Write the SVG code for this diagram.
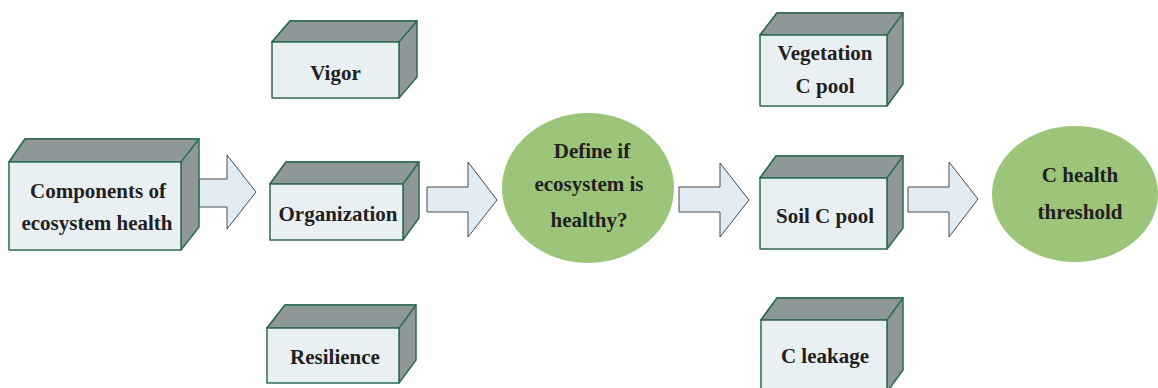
<svg xmlns="http://www.w3.org/2000/svg" width="1158" height="388" viewBox="0 0 1158 388">
<style>
.f{fill:#e9f0f4;stroke:#2d6b50;stroke-width:1.5;stroke-linejoin:round}
.s{fill:#8f9798;stroke:#2d6b50;stroke-width:1.5;stroke-linejoin:round}
.e{fill:#9cc57a;stroke:none}
.a{fill:#e1ecf5;stroke:#4a4a4a;stroke-width:1}
text{font-family:"Liberation Serif","Times New Roman",serif;font-weight:bold;font-size:21px;fill:#231f20;text-anchor:middle}
</style>
<rect width="1158" height="388" fill="#ffffff"/>
<g id="connectors">
<path class="a" d="M199,179 H227 V155 L256,192 L227,229 V207 H199 Z"/>
<path class="a" d="M427,187 H468 V162 L497,200 L468,237 V212 H427 Z"/>
<path class="a" d="M679,187 H720 V163 L749,200 L720,237 V212 H679 Z"/>
<path class="a" d="M908,187 H949 V162 L978,199 L949,237 V212 H908 Z"/>
</g>
<g id="components">
<path class="s" d="M9,162 L25,139 H199 V227 L181,250 V162 Z"/>
<path class="s" d="M9,162 L25,139 H199 L181,162 Z"/>
<rect class="f" x="9" y="162" width="172" height="88"/>
<text x="98" y="198">Components of</text>
<text x="97" y="230">ecosystem health</text>
</g>
<g id="vigor">
<path class="s" d="M272,42 L290,21 H417 V77 L399,98 V42 Z"/>
<path class="s" d="M272,42 L290,21 H417 L399,42 Z"/>
<rect class="f" x="272" y="42" width="127" height="56"/>
<text x="335.5" y="80">Vigor</text>
</g>
<g id="organization">
<path class="s" d="M270,184 L286,162 H419 V218 L403,240 V184 Z"/>
<path class="s" d="M270,184 L286,162 H419 L403,184 Z"/>
<rect class="f" x="270" y="184" width="133" height="56"/>
<text x="338" y="221">Organization</text>
</g>
<g id="resilience">
<path class="s" d="M267,328 L285,305 H416 V360 L399,383 V328 Z"/>
<path class="s" d="M267,328 L285,305 H416 L399,328 Z"/>
<rect class="f" x="267" y="328" width="132" height="55"/>
<text x="335" y="364">Resilience</text>
</g>
<g id="define">
<ellipse class="e" cx="588" cy="188" rx="86" ry="75"/>
<text x="592" y="158">Define if</text>
<text x="589" y="191">ecosystem is</text>
<text x="589" y="227">healthy?</text>
</g>
<g id="vegetation">
<path class="s" d="M760,35 L777,13 H903 V84 L887,106 V35 Z"/>
<path class="s" d="M760,35 L777,13 H903 L887,35 Z"/>
<rect class="f" x="760" y="35" width="127" height="71"/>
<text x="825" y="60">Vegetation</text>
<text x="825" y="93">C pool</text>
</g>
<g id="soil">
<path class="s" d="M760,178 L776,156 H903 V228 L887,249 V178 Z"/>
<path class="s" d="M760,178 L776,156 H903 L887,178 Z"/>
<rect class="f" x="760" y="178" width="127" height="71"/>
<text x="825" y="223">Soil C pool</text>
</g>
<g id="leakage">
<path class="s" d="M761,320 L777,298 H903 V370 L887,392 V320 Z"/>
<path class="s" d="M761,320 L777,298 H903 L887,320 Z"/>
<rect class="f" x="761" y="320" width="126" height="72"/>
<text x="825" y="363">C leakage</text>
</g>
<g id="threshold">
<ellipse class="e" cx="1075" cy="194" rx="83" ry="68"/>
<text x="1080" y="182">C health</text>
<text x="1080" y="219">threshold</text>
</g>
</svg>
